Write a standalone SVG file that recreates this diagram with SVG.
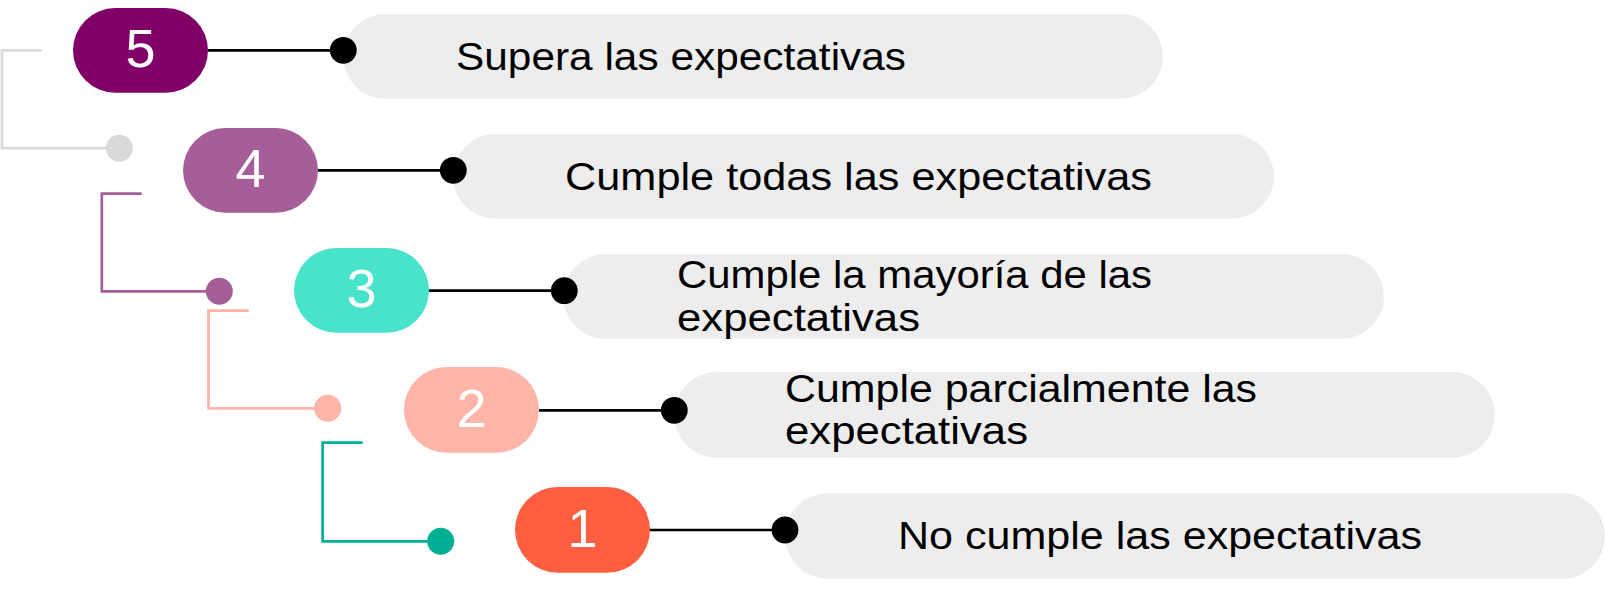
<svg xmlns="http://www.w3.org/2000/svg" width="1605" height="596" viewBox="0 0 1605 596">
  <style>
    .num { font-family: "Liberation Sans", Arial, sans-serif; font-size: 54px; fill: #ffffff; text-anchor: middle; }
    .lbl { font-family: "Liberation Sans", Arial, sans-serif; font-size: 38px; fill: #000000; }
    .bar { fill: #ededed; }
    .link { stroke: #000000; stroke-width: 2.7; fill: none; }
    .bracket { stroke-width: 2.7; fill: none; }
  </style>
  <rect width="1605" height="596" fill="#ffffff"/>

  <!-- Label bars -->
  <g id="label-5"><rect class="bar" x="343" y="14" width="820" height="84.7" rx="42.35"/>
    <text class="lbl" x="456" y="70" textLength="450" lengthAdjust="spacingAndGlyphs">Supera las expectativas</text></g>
  <g id="label-4"><rect class="bar" x="453" y="134" width="821" height="84.7" rx="42.35"/>
    <text class="lbl" x="565" y="189.5" textLength="587" lengthAdjust="spacingAndGlyphs">Cumple todas las expectativas</text></g>
  <g id="label-3"><rect class="bar" x="563" y="254" width="821" height="84.7" rx="42.35"/>
    <text class="lbl" x="677" y="288.3" textLength="475" lengthAdjust="spacingAndGlyphs">Cumple la mayoría de las</text>
    <text class="lbl" x="677" y="330.8" textLength="243" lengthAdjust="spacingAndGlyphs">expectativas</text></g>
  <g id="label-2"><rect class="bar" x="674" y="372" width="821" height="85.7" rx="42.85"/>
    <text class="lbl" x="785" y="401.8" textLength="472" lengthAdjust="spacingAndGlyphs">Cumple parcialmente las</text>
    <text class="lbl" x="785" y="444.3" textLength="243" lengthAdjust="spacingAndGlyphs">expectativas</text></g>
  <g id="label-1"><rect class="bar" x="785" y="493.3" width="820" height="85.4" rx="42.7"/>
    <text class="lbl" x="898" y="548.5" textLength="524" lengthAdjust="spacingAndGlyphs">No cumple las expectativas</text></g>

  <!-- Number pills -->
  <g id="level-5"><rect x="73" y="8" width="135" height="84.7" rx="42.35" fill="#800068"/>
    <text class="num" x="140.5" y="66.8">5</text></g>
  <g id="level-4"><rect x="183" y="128" width="135" height="84.7" rx="42.35" fill="#a65e99"/>
    <text class="num" x="250.5" y="187.3">4</text></g>
  <g id="level-3"><rect x="294" y="248" width="135" height="84.7" rx="42.35" fill="#48e3cb"/>
    <text class="num" x="361.5" y="307.3">3</text></g>
  <g id="level-2"><rect x="404" y="367" width="135" height="85.7" rx="42.85" fill="#feb4a6"/>
    <text class="num" x="471.5" y="426.8">2</text></g>
  <g id="level-1"><rect x="515" y="487" width="135" height="85.7" rx="42.85" fill="#ff5f40"/>
    <text class="num" x="582.5" y="546.7">1</text></g>

  <!-- Connectors -->
  <g id="connectors">
    <line class="link" x1="208" y1="50.3" x2="343" y2="50.3"/>
    <circle cx="343.3" cy="50.3" r="13.4" fill="#000000"/>
    <line class="link" x1="318" y1="170.3" x2="453" y2="170.3"/>
    <circle cx="453.3" cy="170.3" r="13.4" fill="#000000"/>
    <line class="link" x1="429" y1="290.7" x2="564" y2="290.7"/>
    <circle cx="564.3" cy="290.7" r="13.4" fill="#000000"/>
    <line class="link" x1="539" y1="410.3" x2="674" y2="410.3"/>
    <circle cx="674.3" cy="410.3" r="13.4" fill="#000000"/>
    <line class="link" x1="650" y1="530" x2="785" y2="530"/>
    <circle cx="785" cy="530" r="13.4" fill="#000000"/>

    <path class="bracket" stroke="#d9d9d9" d="M41.7,50.3 H2 V148.2 H119"/>
    <circle cx="119.3" cy="148.2" r="13.5" fill="#d9d9d9"/>
    <path class="bracket" stroke="#a65e99" d="M141.7,193.7 H101.8 V291.3 H219"/>
    <circle cx="219.3" cy="291.3" r="13.5" fill="#a65e99"/>
    <path class="bracket" stroke="#feb4a6" d="M248.7,310.7 H208.5 V408.3 H327"/>
    <circle cx="327.7" cy="408.3" r="13.5" fill="#feb4a6"/>
    <path class="bracket" stroke="#00ae93" d="M362.7,442.7 H322.6 V541.3 H440"/>
    <circle cx="440.7" cy="541.3" r="13.5" fill="#00ae93"/>
  </g>
</svg>
